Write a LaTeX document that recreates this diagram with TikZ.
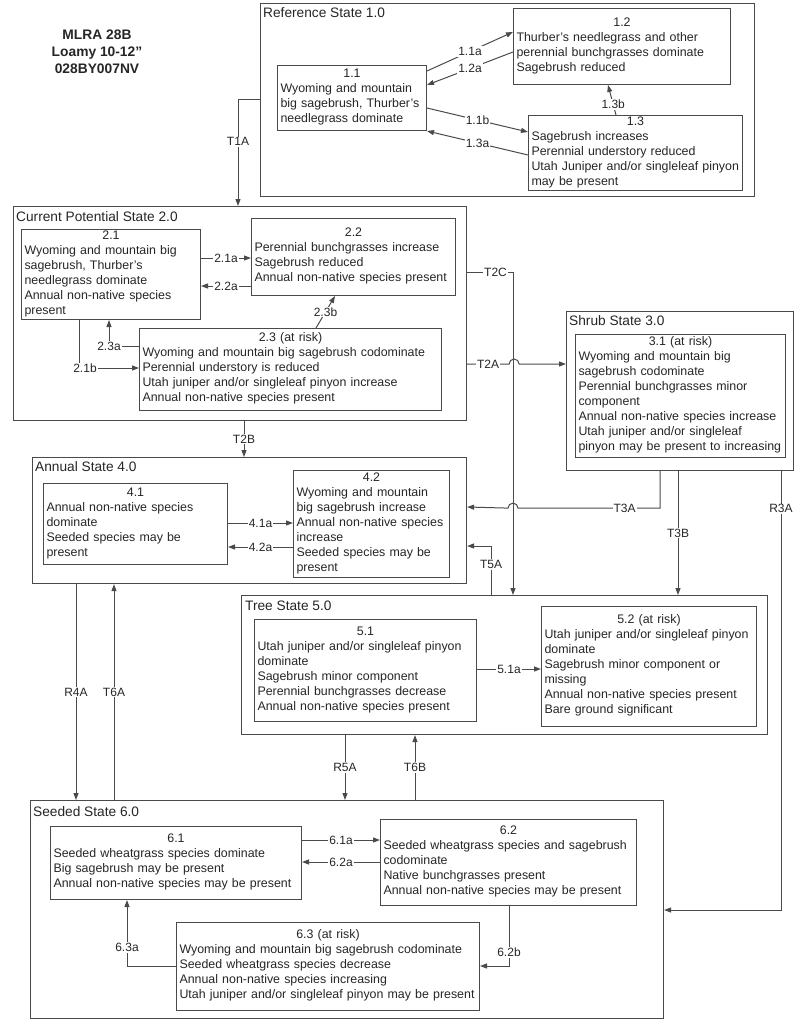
\documentclass[tikz,border=0pt]{standalone}
\usepackage{fontspec}
\setmainfont{Liberation Sans}
\usetikzlibrary{arrows.meta}
\setlength{\parindent}{0pt}
\definecolor{ln}{HTML}{4A4A4A}
\definecolor{tx}{HTML}{262626}
\newcommand{\phase}[2]{{\centering #1\par}\begin{tabular}[t]{@{}l@{}}#2\end{tabular}}
\tikzset{
  statebox/.style={draw=ln, line width=1.1pt, anchor=north west, inner sep=0pt},
  sbox/.style={draw=ln, line width=1pt, anchor=north west, inner xsep=3pt, inner ysep=0pt, align=left, font=\fontsize{12.4}{15}\selectfont, text=tx},
  stlbl/.style={anchor=west, inner sep=0pt, font=\fontsize{13.7}{16}\selectfont, text=tx},
  lbl/.style={fill=white, inner sep=1pt, font=\fontsize{12}{14}\selectfont, text=tx},
  arr/.style={draw=ln, line width=1pt, -{Triangle[length=7pt,width=5pt]}},
  con/.style={draw=ln, line width=1pt}
}
\begin{document}
\begin{tikzpicture}[x=1pt,y=-1pt]
\fill[white] (0,0) rectangle (800,1021);
\useasboundingbox (0,0) rectangle (800,1021);

% title
\node[font=\bfseries\fontsize{13.8}{17}\selectfont, align=center, text=tx] (title) at (97,52) {MLRA 28B\\Loamy 10-12"\\028BY007NV};

% ---------- states ----------
\node[statebox, minimum width=494pt, minimum height=193pt] (s1) at (260,3) {};
\node[stlbl] (s1t) at ([xshift=3pt,yshift=-10pt]s1.north west) {Reference State 1.0};
\node[statebox, minimum width=453pt, minimum height=214pt] (s2) at (13,206) {};
\node[stlbl] (s2t) at ([xshift=3pt,yshift=-11pt]s2.north west) {Current Potential State 2.0};
\node[statebox, minimum width=227pt, minimum height=159pt] (s3) at (566,311) {};
\node[stlbl] (s3t) at ([xshift=3pt,yshift=-10pt]s3.north west) {Shrub State 3.0};
\node[statebox, minimum width=434pt, minimum height=126pt] (s4) at (32,457) {};
\node[stlbl] (s4t) at ([xshift=3pt,yshift=-10pt]s4.north west) {Annual State 4.0};
\node[statebox, minimum width=526pt, minimum height=139pt] (s5) at (241,595) {};
\node[stlbl] (s5t) at ([xshift=4pt,yshift=-11pt]s5.north west) {Tree State 5.0};
\node[statebox, minimum width=633pt, minimum height=218pt] (s6) at (30,800) {};
\node[stlbl] (s6t) at ([xshift=3pt,yshift=-12pt]s6.north west) {Seeded State 6.0};

% ---------- community phases ----------
\node[sbox, minimum width=149pt, minimum height=65pt, text width=143pt] (n11) at (277,65)
 {\phase{1.1}{Wyoming and mountain\\big sagebrush, Thurber's\\needlegrass dominate}};
\node[sbox, minimum width=217pt, minimum height=76pt, text width=211pt] (n12) at (513,8)
 {\phase{1.2}{Thurber's needlegrass and other\\perennial bunchgrasses dominate\\Sagebrush reduced}};
\node[sbox, minimum width=214pt, minimum height=75pt, text width=208pt] (n13) at (528,115)
 {\phase{1.3}{Sagebrush increases\\Perennial understory reduced\\Utah Juniper and/or singleleaf pinyon\\may be present}};

\node[sbox, minimum width=179pt, minimum height=90pt, text width=173pt] (n21) at (21,229)
 {\phase{2.1}{Wyoming and mountain big\\sagebrush, Thurber's\\needlegrass dominate\\Annual non-native species\\present}};
\node[sbox, minimum width=204pt, minimum height=77pt, text width=198pt] (n22) at (251,218)
 {\phase{2.2}{Perennial bunchgrasses increase\\Sagebrush reduced\\Annual non-native species present}};
\node[sbox, minimum width=302pt, minimum height=82pt, text width=296pt] (n23) at (139,328)
 {\phase{2.3 (at risk)}{Wyoming and mountain big sagebrush codominate\\Perennial understory is reduced\\Utah juniper and/or singleleaf pinyon increase\\Annual non-native species present}};

\node[sbox, minimum width=210pt, minimum height=123pt, text width=204pt] (n31) at (575,334)
 {\phase{3.1 (at risk)}{Wyoming and mountain big\\sagebrush codominate\\Perennial bunchgrasses minor\\component\\Annual non-native species increase\\Utah juniper and/or singleleaf\\pinyon may be present to increasing}};

\node[sbox, minimum width=184pt, minimum height=81pt, text width=178pt] (n41) at (43,483)
 {\phase{4.1}{Annual non-native species\\dominate\\Seeded species may be\\present}};
\node[sbox, minimum width=156pt, minimum height=107pt, text width=150pt] (n42) at (293,470)
 {\phase{4.2}{Wyoming and mountain\\big sagebrush increase\\Annual non-native species\\increase\\Seeded species may be\\present}};

\node[sbox, minimum width=222pt, minimum height=102pt, text width=216pt] (n51) at (254,619)
 {\phase{5.1}{Utah juniper and/or singleleaf pinyon\\dominate\\Sagebrush minor component\\Perennial bunchgrasses decrease\\Annual non-native species present}};
\node[sbox, minimum width=215pt, minimum height=120pt, text width=209pt] (n52) at (541,606)
 {\phase{5.2 (at risk)}{Utah juniper and/or singleleaf pinyon\\dominate\\Sagebrush minor component or\\missing\\Annual non-native species present\\Bare ground significant}};

\node[sbox, minimum width=251pt, minimum height=73pt, text width=245pt] (n61) at (50,826)
 {\phase{6.1}{Seeded wheatgrass species dominate\\Big sagebrush may be present\\Annual non-native species may be present}};
\node[sbox, minimum width=256pt, minimum height=86pt, text width=250pt] (n62) at (380,819)
 {\phase{6.2}{Seeded wheatgrass species and sagebrush\\codominate\\Native bunchgrasses present\\Annual non-native species may be present}};
\node[sbox, minimum width=303pt, minimum height=88pt, text width=297pt] (n63) at (176,922)
 {\phase{6.3 (at risk)}{Wyoming and mountain big sagebrush codominate\\Seeded wheatgrass species decrease\\Annual non-native species increasing\\Utah juniper and/or singleleaf pinyon may be present}};

% ---------- transitions within states ----------
\draw[arr] ([yshift=-6pt]n11.north east) -- node[lbl]{1.1a} ([yshift=-24pt]n12.north west);
\draw[arr] ([yshift=-44pt]n12.north west) -- node[lbl]{1.2a} ([yshift=-20pt]n11.north east);
\draw[arr] ([yshift=-43pt]n11.north east) -- node[lbl]{1.1b} ([yshift=-17pt]n13.north west);
\draw[arr] ([yshift=-40pt]n13.north west) -- node[lbl]{1.3a} (n11.south east);
\draw[arr] ([xshift=88pt]n13.north west) -- node[lbl,pos=0.35]{1.3b} ([xshift=95pt]n12.south west);

\draw[arr] ([yshift=-29pt]n21.north east) -- node[lbl]{2.1a} ([yshift=-40pt]n22.north west);
\draw[arr] ([yshift=-68pt]n22.north west) -- node[lbl]{2.2a} ([yshift=-57pt]n21.north east);
\draw[arr] ([xshift=177pt]n23.north west) -- node[lbl]{2.3b} ([xshift=84pt]n22.south west);
\draw[arr] ([yshift=-18pt]n23.north west) -| node[lbl,pos=0.5]{2.3a} ([xshift=88pt]n21.south west);
\draw[arr] ([xshift=58pt]n21.south west) |- node[lbl,pos=0.55]{2.1b} ([yshift=-40pt]n23.north west);

\draw[arr] ([yshift=-40pt]n41.north east) -- node[lbl]{4.1a} ([yshift=-53pt]n42.north west);
\draw[arr] ([yshift=-77pt]n42.north west) -- node[lbl]{4.2a} ([yshift=-64pt]n41.north east);

\draw[arr] ([yshift=-50pt]n51.north east) -- node[lbl]{5.1a} ([yshift=-63pt]n52.north west);

\draw[arr] ([yshift=-14pt]n61.north east) -- node[lbl]{6.1a} ([yshift=-21pt]n62.north west);
\draw[arr] ([yshift=-43pt]n62.north west) -- node[lbl]{6.2a} ([yshift=-36pt]n61.north east);
\draw[arr] ([yshift=-44pt]n63.north west) -| node[lbl,pos=0.64]{6.3a} ([xshift=77pt]n61.south west);
\draw[arr] ([xshift=129pt]n62.south west) |- node[lbl,pos=0.385]{6.2b} ([yshift=-44pt]n63.north east);

% ---------- transitions between states ----------
\draw[arr] ([yshift=-96pt]s1.north west) -| node[lbl,pos=0.7]{T1A} ([xshift=225pt]s2.north west);
\draw[arr] ([xshift=231pt]s2.south west) -- node[lbl]{T2B} ([xshift=212pt]s4.north west);
\draw[arr] ([yshift=-66pt]s2.north east) -| node[lbl,pos=0.31]{T2C} ([xshift=272pt]s5.north west);
\draw[arr] ([yshift=-158pt]s2.north east) -- node[lbl]{T2A} ++(42pt,0pt)
   arc[start angle=180, end angle=0, radius=5pt] -- ([yshift=-53pt]s3.north west);
\draw[arr] ([xshift=94pt]s3.south west) -- ++(0pt,-37pt) -- node[lbl,pos=0.25]{T3A} ++(-142pt,0pt)
   arc[start angle=0, end angle=180, radius=5pt] -- ([yshift=-50pt]s4.north east);
\draw[arr] ([xshift=112pt]s3.south west) -- node[lbl]{T3B} ([xshift=437pt]s5.north west);
\draw[arr] ([xshift=215pt]s3.south west) |- node[lbl,pos=0.043]{R3A} ([yshift=-110pt]s6.north east);
\draw[arr] ([xshift=250pt]s5.north west) |- node[lbl,pos=0.31]{T5A} ([yshift=-89pt]s4.north east);
\draw[arr] ([xshift=44pt]s4.south west) -- node[lbl]{R4A} ([xshift=46pt]s6.north west);
\draw[arr] ([xshift=84pt]s6.north west) -- node[lbl]{T6A} ([xshift=82pt]s4.south west);
\draw[arr] ([xshift=104pt]s5.south west) -- node[lbl]{R5A} ([xshift=315pt]s6.north west);
\draw[arr] ([xshift=385pt]s6.north west) -- node[lbl]{T6B} ([xshift=174pt]s5.south west);
\end{tikzpicture}
\end{document}
